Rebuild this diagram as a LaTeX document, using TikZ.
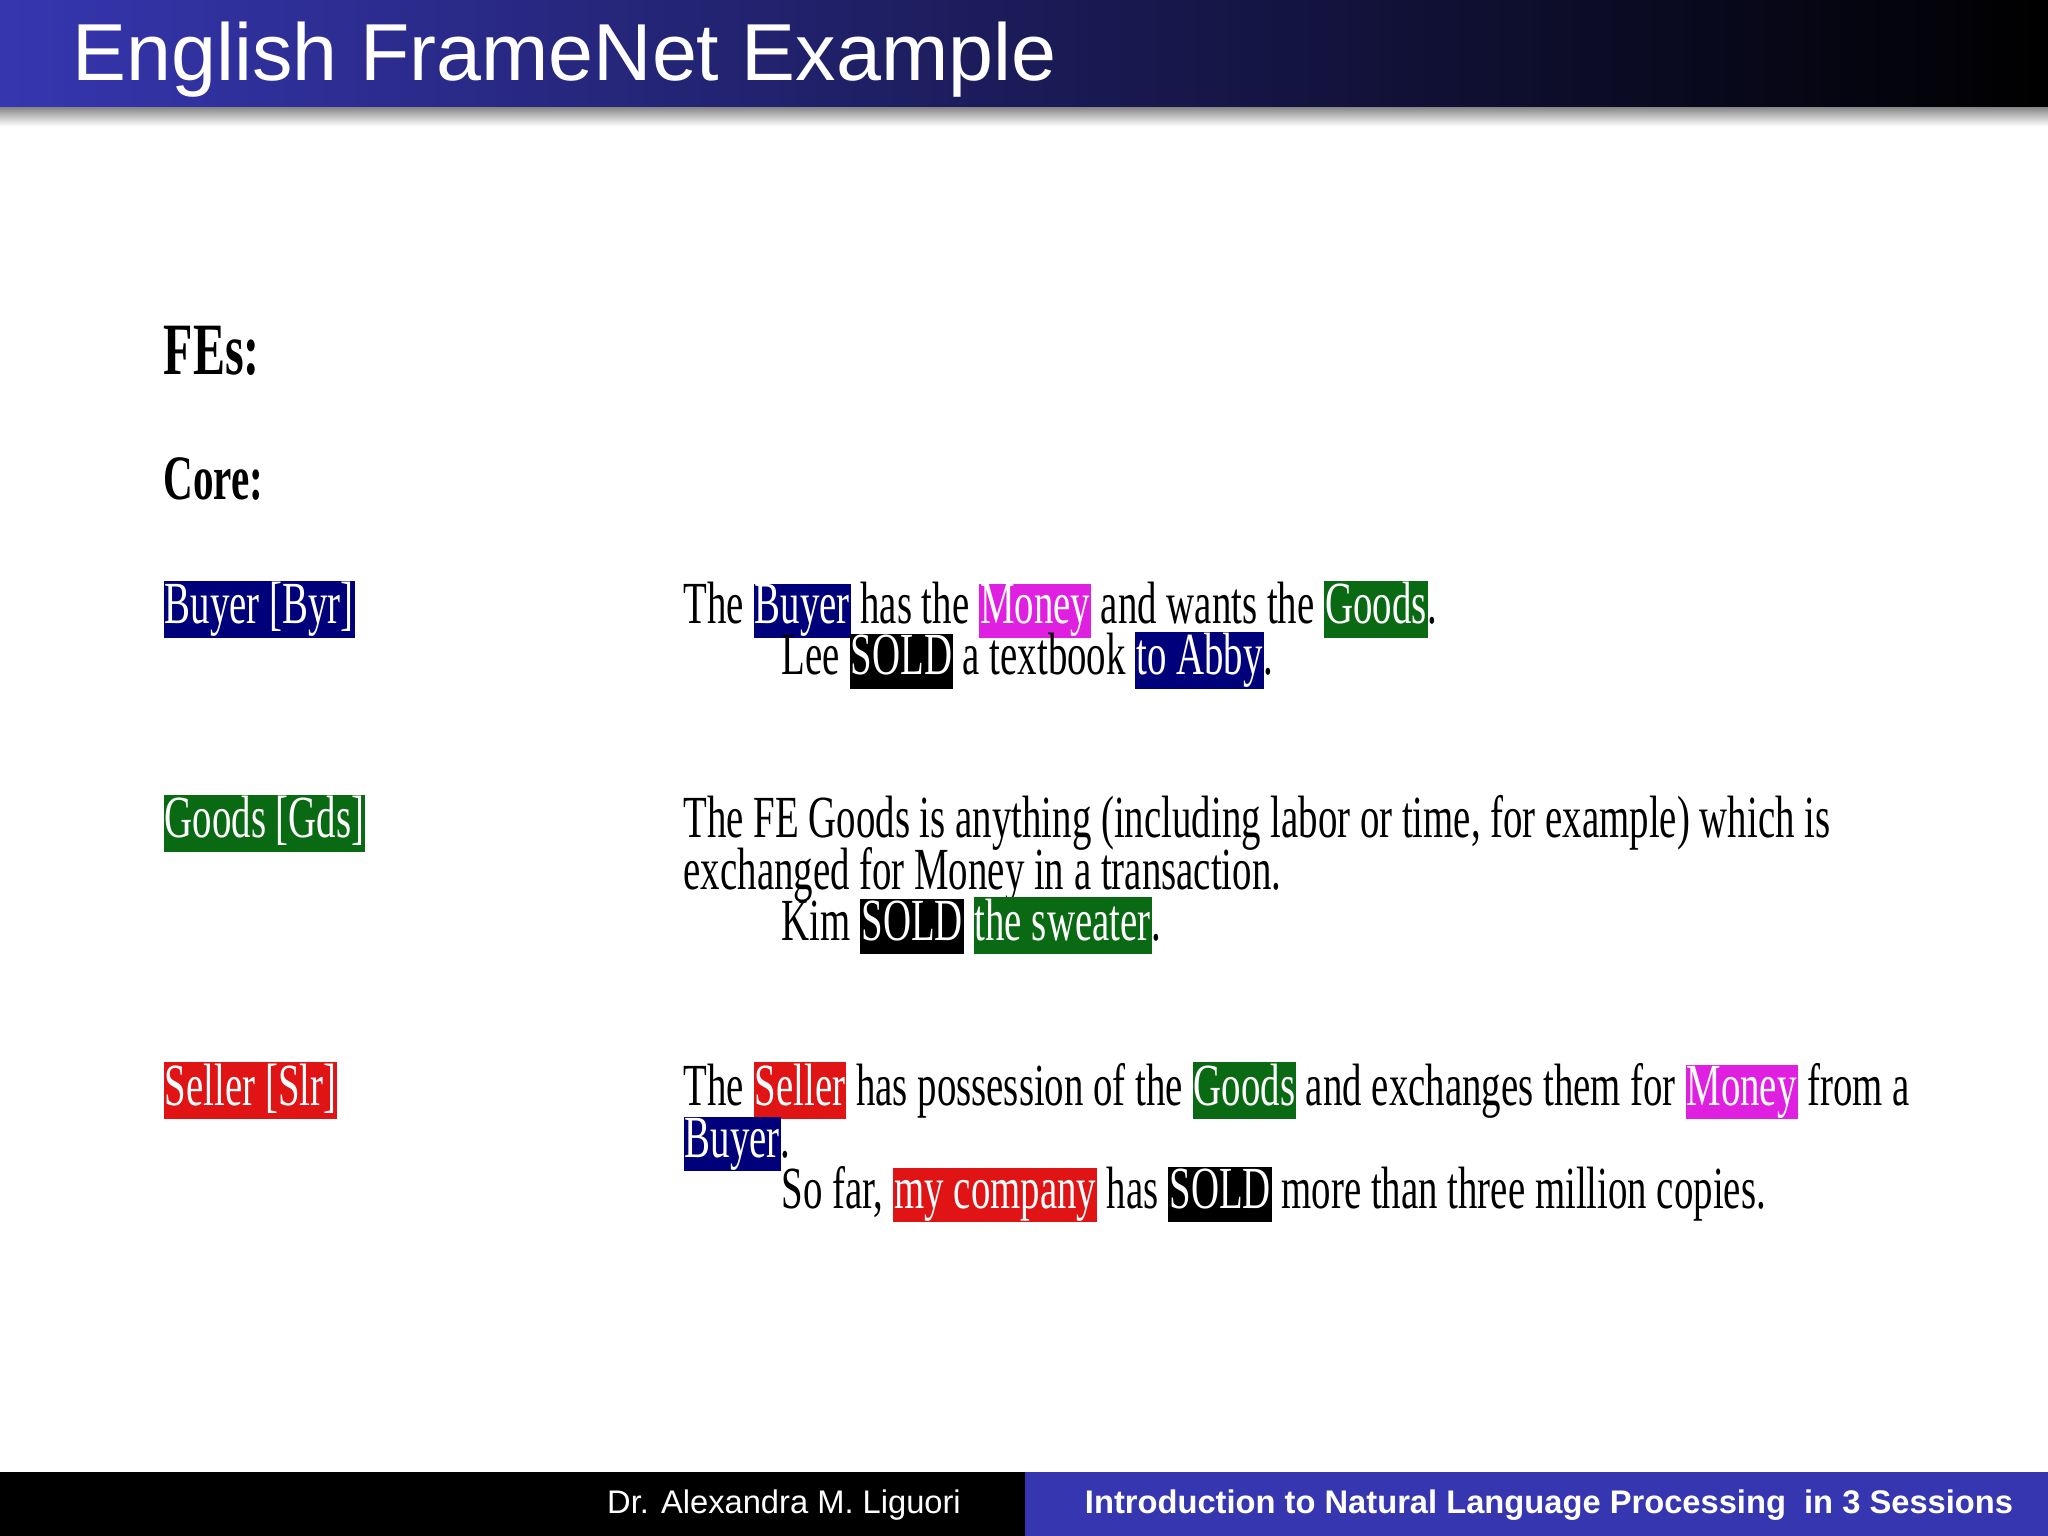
\documentclass[tikz,border=0pt]{standalone}
\usepackage{fontspec}
\setmainfont{Liberation Serif}
\newfontfamily\sans{Liberation Sans}
\newfontfamily\cond[FakeStretch=0.65]{Liberation Serif}
\usetikzlibrary{calc}
\definecolor{bnavy}{HTML}{00007A}
\definecolor{bmag}{HTML}{E020E0}
\definecolor{bgreen}{HTML}{0A6A14}
\definecolor{bred}{HTML}{E01414}
\definecolor{barblue}{HTML}{3636B0}
\setlength{\fboxsep}{0.3pt}
\newcommand\hl[2]{\colorbox{#1}{\textcolor{white}{\vphantom{Ay}#2}}}
\tikzset{txt/.style={anchor=base west,inner sep=0pt,font=\cond\fontsize{17}{20}\selectfont},
hd/.style={txt,font=\cond\bfseries\fontsize{18}{20}\selectfont}}
\begin{document}
\begin{tikzpicture}
\useasboundingbox (0,0) rectangle (20.48,-15.36);
\fill[white] (0,0) rectangle (20.48,-15.36);
\shade[left color=barblue,right color=black] (0,0) rectangle (20.48,-1.08);
\shade[top color=black!45,bottom color=white] (0,-1.08) rectangle (20.48,-1.26);
\node[anchor=base west,inner sep=0pt,text=white,font=\sans\fontsize{23}{26}\selectfont] (title) at (0.72,-0.81) {English FrameNet Example};
\fill[black] (0,-14.72) rectangle (10.25,-15.36);
\fill[barblue] (10.25,-14.72) rectangle (20.48,-15.36);
\node[text=white,font=\sans\fontsize{9.3}{11}\selectfont] (auth) at (7.84,-15.05) {Dr. Alexandra M. Liguori};
\node[text=white,font=\sans\bfseries\fontsize{9.3}{11}\selectfont] (course) at (15.49,-15.05) {Introduction to Natural Language Processing\ \ in 3 Sessions};

\node[hd,font=\cond\bfseries\fontsize{21}{24}\selectfont] (fes) at (1.63,-3.75) {FEs:};
\node[hd] (core) at (1.63,-4.99) {Core:};

\node[txt] (byr) at (1.63,-6.24) {\hl{bnavy}{Buyer [Byr]}};
\node[txt] (b1) at (6.83,-6.24) {The \hl{bnavy}{Buyer} has the \hl{bmag}{Money} and wants the \hl{bgreen}{Goods}.};
\node[txt] (b2) at (7.81,-6.75) {Lee \hl{black}{SOLD} a textbook \hl{bnavy}{to Abby}.};

\node[txt] (gds) at (1.63,-8.38) {\hl{bgreen}{Goods [Gds]}};
\node[txt] (g1) at (6.83,-8.38) {The FE Goods is anything (including labor or time, for example) which is};
\node[txt] (g2) at (6.83,-8.89) {exchanged for Money in a transaction.};
\node[txt] (g3) at (7.81,-9.40) {Kim \hl{black}{SOLD} \hl{bgreen}{the sweater}.};

\node[txt] (slr) at (1.63,-11.05) {\hl{bred}{Seller [Slr]}};
\node[txt] (s1) at (6.83,-11.05) {The \hl{bred}{Seller} has possession of the \hl{bgreen}{Goods} and exchanges them for \hl{bmag}{Money} from a};
\node[txt] (s2) at (6.83,-11.57) {\hl{bnavy}{Buyer}.};
\node[txt] (s3) at (7.81,-12.08) {So far, \hl{bred}{my company} has \hl{black}{SOLD} more than three million copies.};
\end{tikzpicture}
\end{document}
